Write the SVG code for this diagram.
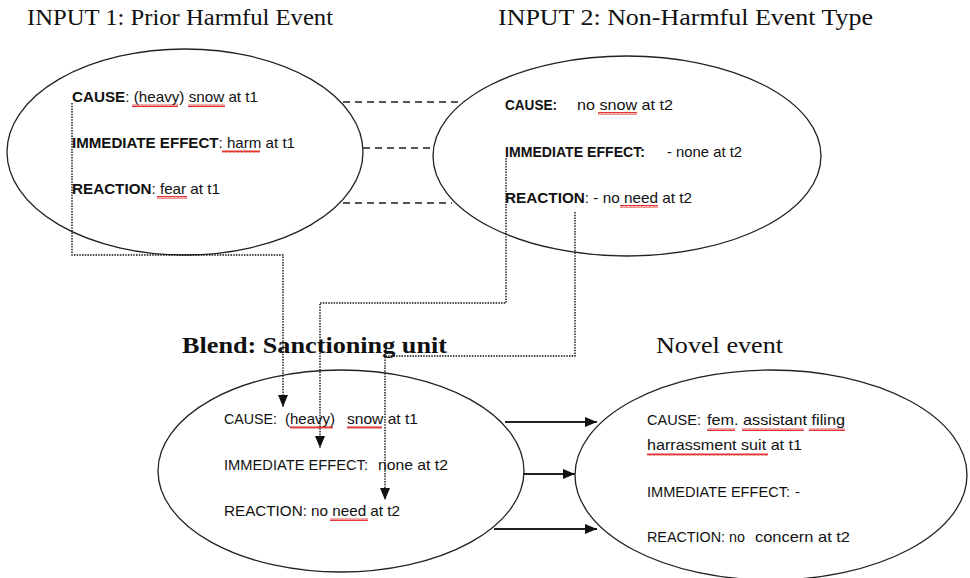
<svg xmlns="http://www.w3.org/2000/svg" width="970" height="578" viewBox="0 0 970 578">
<defs>
<style>
.ell{fill:#fff;stroke:#222;stroke-width:1.3}
.title{font-family:"Liberation Serif","Times New Roman",serif;font-size:24px;fill:#111}
.tb{font-weight:bold}
.t{font-family:"Liberation Sans",Arial,sans-serif;font-size:15px;fill:#111}
.b{font-weight:bold}
.dash{fill:none;stroke:#555;stroke-width:1.8;stroke-dasharray:7 5}
.dot{fill:none;stroke:#111;stroke-width:1.4;stroke-dasharray:1.5 1.2}
.sol{fill:none;stroke:#222;stroke-width:1.8}
.sq{fill:url(#wave)}
</style>
<pattern id="wave" width="4" height="3" patternUnits="userSpaceOnUse">
<path d="M0 2.6 L1 0.4 L2 2.6 L3 0.4 L4 2.6" fill="none" stroke="#e02020" stroke-width="0.9"/>
</pattern>
<marker id="ah" viewBox="0 0 12 10" refX="12" refY="5" markerWidth="12" markerHeight="10" markerUnits="userSpaceOnUse" orient="auto">
<path d="M0 0 L12 5 L0 10 Z" fill="#111"/>
</marker>
</defs>
<rect width="970" height="578" fill="#fff"/>

<text class="title" x="27" y="25" textLength="306" lengthAdjust="spacingAndGlyphs">INPUT 1: Prior Harmful Event</text>
<text class="title" x="498" y="25" textLength="375" lengthAdjust="spacingAndGlyphs">INPUT 2: Non-Harmful Event Type</text>
<text class="title tb" x="182" y="353" textLength="265" lengthAdjust="spacingAndGlyphs">Blend: Sanctioning unit</text>
<text class="title" x="656" y="353" textLength="127" lengthAdjust="spacingAndGlyphs">Novel event</text>

<g id="input1">
<ellipse class="ell" cx="185" cy="152" rx="178" ry="103"/>
<text class="t" x="72" y="102" textLength="186" lengthAdjust="spacingAndGlyphs"><tspan class="b">CAUSE</tspan>: (heavy) snow at t1</text>
<text class="t" x="72" y="148" textLength="223" lengthAdjust="spacingAndGlyphs"><tspan class="b">IMMEDIATE EFFECT</tspan>: harm at t1</text>
<text class="t" x="72" y="194" textLength="148" lengthAdjust="spacingAndGlyphs"><tspan class="b">REACTION</tspan>: fear at t1</text>
<rect class="sq" x="132" y="104" width="46" height="3"/>
<rect class="sq" x="188" y="104" width="37" height="3"/>
<rect class="sq" x="222" y="150" width="38" height="3"/>
<rect class="sq" x="157" y="196" width="30" height="3"/>
</g>

<g id="input2">
<ellipse class="ell" cx="627" cy="156" rx="194" ry="100"/>
<text class="t b" x="505" y="110" textLength="52" lengthAdjust="spacingAndGlyphs">CAUSE:</text>
<text class="t" x="577" y="110" textLength="96" lengthAdjust="spacingAndGlyphs">no snow at t2</text>
<text class="t b" x="505" y="157" textLength="140" lengthAdjust="spacingAndGlyphs">IMMEDIATE EFFECT:</text>
<text class="t" x="667" y="157" textLength="75" lengthAdjust="spacingAndGlyphs">- none at t2</text>
<text class="t" x="505" y="203" textLength="187" lengthAdjust="spacingAndGlyphs"><tspan class="b">REACTION</tspan>: - no need at t2</text>
<rect class="sq" x="598" y="112" width="39" height="3"/>
<rect class="sq" x="620" y="205" width="38" height="3"/>
</g>

<g id="blend">
<ellipse class="ell" cx="341" cy="471" rx="183" ry="101"/>
<text class="t" x="224" y="424" textLength="53" lengthAdjust="spacingAndGlyphs">CAUSE:</text>
<text class="t" x="285" y="424" textLength="50" lengthAdjust="spacingAndGlyphs">(heavy)</text>
<text class="t" x="347" y="424" textLength="71" lengthAdjust="spacingAndGlyphs">snow at t1</text>
<text class="t" x="224" y="470" textLength="144" lengthAdjust="spacingAndGlyphs">IMMEDIATE EFFECT:</text>
<text class="t" x="378" y="470" textLength="70" lengthAdjust="spacingAndGlyphs">none at t2</text>
<text class="t" x="224" y="516" textLength="176" lengthAdjust="spacingAndGlyphs">REACTION: no need at t2</text>
<rect class="sq" x="290" y="426" width="43" height="3"/>
<rect class="sq" x="347" y="426" width="35" height="3"/>
<rect class="sq" x="330" y="518" width="38" height="3"/>
</g>

<g id="novel">
<ellipse class="ell" cx="771" cy="475" rx="196" ry="105"/>
<text class="t" x="647" y="425" textLength="54" lengthAdjust="spacingAndGlyphs">CAUSE:</text>
<text class="t" x="707" y="425" textLength="138" lengthAdjust="spacingAndGlyphs">fem. assistant filing</text>
<text class="t" x="647" y="450" textLength="155" lengthAdjust="spacingAndGlyphs">harrassment suit at t1</text>
<text class="t" x="647" y="497" textLength="143" lengthAdjust="spacingAndGlyphs">IMMEDIATE EFFECT:</text>
<text class="t" x="795" y="497">-</text>
<text class="t" x="647" y="542" textLength="98" lengthAdjust="spacingAndGlyphs">REACTION: no</text>
<text class="t" x="755" y="542" textLength="95" lengthAdjust="spacingAndGlyphs">concern at t2</text>
<rect class="sq" x="707" y="428" width="28" height="3"/>
<rect class="sq" x="742" y="428" width="62" height="3"/>
<rect class="sq" x="809" y="428" width="36" height="3"/>
<rect class="sq" x="647" y="453" width="121" height="3"/>
</g>

<g id="connectors">
<line class="dash" x1="343" y1="102" x2="464" y2="102"/>
<line class="dash" x1="363" y1="148" x2="435" y2="148"/>
<line class="dash" x1="343" y1="203" x2="452" y2="203"/>
<path class="dot" d="M72 103 V255 H283 V407" marker-end="url(#ah)"/>
<path class="dot" d="M506 158 V303 H320 V448" marker-end="url(#ah)"/>
<path class="dot" d="M575 212 V356 H385 V500" marker-end="url(#ah)"/>
<line class="sol" x1="505" y1="422" x2="597" y2="422" marker-end="url(#ah)"/>
<line class="sol" x1="523" y1="474" x2="575" y2="474" marker-end="url(#ah)"/>
<line class="sol" x1="494" y1="529" x2="597" y2="529" marker-end="url(#ah)"/>
</g>
</svg>
